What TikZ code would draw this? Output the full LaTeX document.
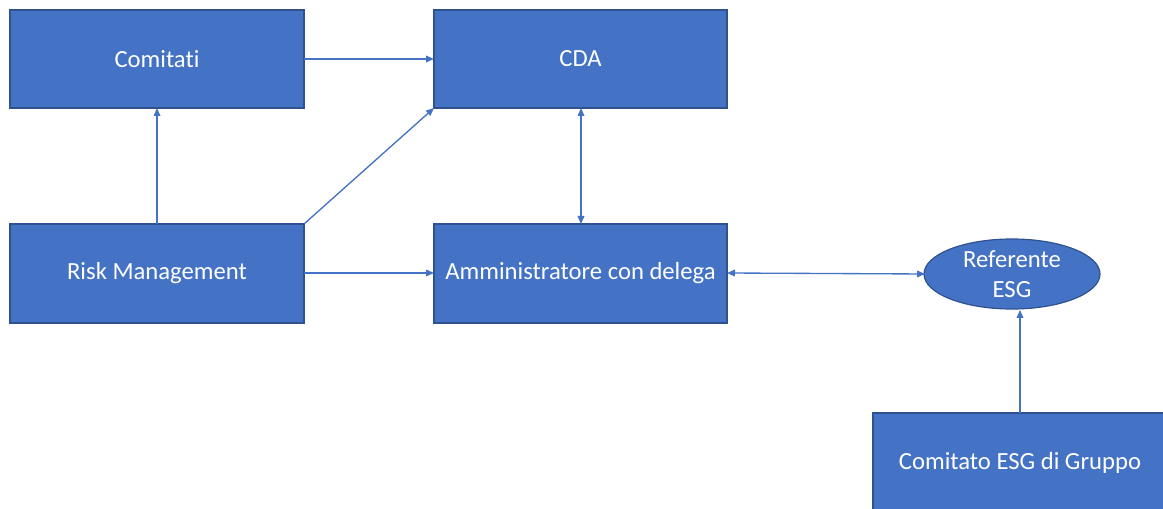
\documentclass[tikz,border=0pt]{standalone}
\usepackage{fontspec}
\setmainfont{Carlito}[Ligatures=NoCommon]
\usetikzlibrary{arrows.meta,shapes.geometric}
\definecolor{boxfill}{HTML}{4472C4}
\definecolor{boxline}{HTML}{2F528F}
\definecolor{arr}{HTML}{4472C4}
\begin{document}
\begin{tikzpicture}[x=0.75pt,y=-0.75pt,
  bx/.style={draw=boxline,line width=0.9pt,fill=boxfill,text=white,font=\fontsize{18.5}{23}\selectfont},
  conn/.style={draw=arr,line width=1pt,-{Triangle[length=6pt,width=5pt]}},
  bconn/.style={draw=arr,line width=1pt,{Triangle[length=6pt,width=5pt]}-{Triangle[length=6pt,width=5pt]}}]
\useasboundingbox[fill=white] (0,0) rectangle (1163,509);
\path[bx] (10,10) rectangle (304,108) node[midway] (comt) {Comitati};
\coordinate (comtB) at (157,108);
\coordinate (comtR) at (304,59);
\path[bx] (434,10) rectangle (727,108) node[midway] (cda) {CDA};
\coordinate (cdaL) at (434,59);
\coordinate (cdaB) at (581,108);
\coordinate (cdaBL) at (434,108);
\path[bx] (10,224) rectangle (304,323) node[midway] (risk) {Risk Management};
\coordinate (riskT) at (157,224);
\coordinate (riskTR) at (304,224);
\coordinate (riskR) at (304,273);
\path[bx] (434,224) rectangle (727,323) node[midway] (amm) {Amministratore con delega};
\coordinate (ammT) at (581,224);
\coordinate (ammL) at (434,273);
\coordinate (ammR) at (727,273);
\node[bx,ellipse,minimum width=176*0.75pt,minimum height=70*0.75pt,inner sep=0pt,align=center] (ref) at (1012,274) {Referente\\ESG};
\path[bx] (873,413) rectangle (1175,520);
\node[text=white,font=\fontsize{18.5}{23}\selectfont] (esg) at (1020,463) {Comitato ESG di Gruppo};
\coordinate (esgT) at (1020,413);
\coordinate (refB) at (1020,310);
\coordinate (refL) at (925,274);
\draw[conn] (comtR) -- (cdaL);
\draw[conn] (riskT) -- (comtB);
\draw[conn] (riskTR) -- (cdaBL);
\draw[conn] (riskR) -- (ammL);
\draw[bconn] (cdaB) -- (ammT);
\draw[bconn] (ammR) -- (refL);
\draw[conn] (esgT) -- (refB);
\end{tikzpicture}
\end{document}
